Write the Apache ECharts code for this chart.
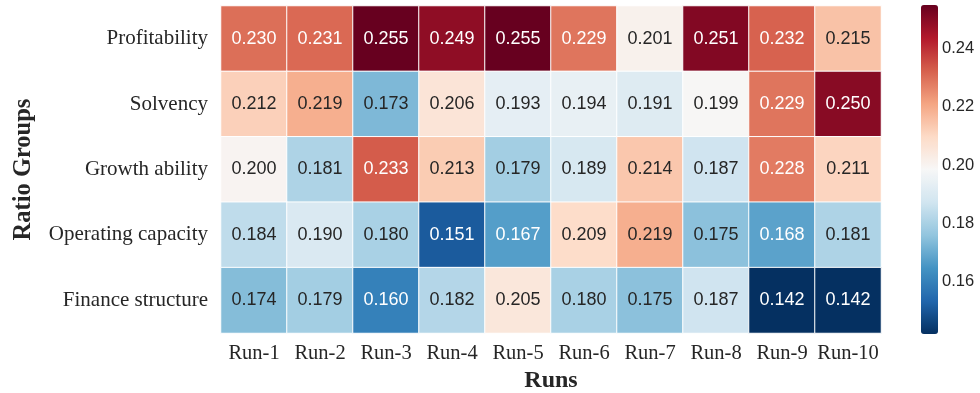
<!DOCTYPE html>
<html><head><meta charset="utf-8">
<script src="https://cdn.jsdelivr.net/npm/echarts@6/dist/echarts.min.js"></script>
<style>html,body{margin:0;padding:0;background:#fff}#c{width:980px;height:393px}</style>
</head><body><div id="c"></div>
<script>
const runs = ['Run-1','Run-2','Run-3','Run-4','Run-5','Run-6','Run-7','Run-8','Run-9','Run-10'];
const groups = ['Profitability','Solvency','Growth ability','Operating capacity','Finance structure'];
const profitability = [0.230,0.231,0.255,0.249,0.255,0.229,0.201,0.251,0.232,0.215];
const solvency      = [0.212,0.219,0.173,0.206,0.193,0.194,0.191,0.199,0.229,0.250];
const growth        = [0.200,0.181,0.233,0.213,0.179,0.189,0.214,0.187,0.228,0.211];
const operating     = [0.184,0.190,0.180,0.151,0.167,0.209,0.219,0.175,0.168,0.181];
const finance       = [0.174,0.179,0.160,0.182,0.205,0.180,0.175,0.187,0.142,0.142];
const colorbarTicks = [0.16,0.18,0.20,0.22,0.24];
const vmin = 0.142, vmax = 0.255;
const rows = [profitability, solvency, growth, operating, finance];
const rdbu = ['#053061','#2166ac','#4393c3','#92c5de','#d1e5f0','#f7f7f7','#fddbc7','#f4a582','#d6604d','#b2182b','#67001f'];

function hex2rgb(h){return [parseInt(h.slice(1,3),16),parseInt(h.slice(3,5),16),parseInt(h.slice(5,7),16)];}
function colorAt(v){
  let t=(v-vmin)/(vmax-vmin); t=Math.max(0,Math.min(1,t));
  const p=t*(rdbu.length-1), i=Math.min(Math.floor(p),rdbu.length-2), f=p-i;
  const a=hex2rgb(rdbu[i]), b=hex2rgb(rdbu[i+1]);
  return a.map((x,k)=>x+(b[k]-x)*f);
}
function lum(rgb){
  const c=rgb.map(x=>{x/=255;return x<=0.03928?x/12.92:Math.pow((x+0.055)/1.055,2.4);});
  return 0.2126*c[0]+0.7152*c[1]+0.0722*c[2];
}
const data=[];
rows.forEach((r,yi)=>r.forEach((v,xi)=>{
  const dark = lum(colorAt(v))>0.408;
  data.push({value:[xi,yi,v],label:{color:dark?'#262626':'#ffffff'}});
}));

const chart=echarts.init(document.getElementById('c'),null,{renderer:'canvas'});
chart.setOption({
  animation:false,
  backgroundColor:'#fff',
  grid:[
    {left:221,right:99,top:6,bottom:60,outerBoundsMode:'none',containLabel:false},
    {left:921,width:17,top:5,height:329,outerBoundsMode:'none',containLabel:false}
  ],
  xAxis:[
    {type:'category',data:runs,gridIndex:0,
     axisLine:{show:false},axisTick:{show:false},splitLine:{show:false},
     axisLabel:{interval:0,fontFamily:'Liberation Serif',fontSize:20.5,color:'#262626',margin:10},
     name:'Runs',nameLocation:'middle',nameGap:35,
     nameTextStyle:{fontFamily:'Liberation Serif',fontSize:24,fontWeight:'bold',color:'#262626'}},
    {type:'category',data:[''],gridIndex:1,show:false}
  ],
  yAxis:[
    {type:'category',data:groups,inverse:true,gridIndex:0,
     axisLine:{show:false},axisTick:{show:false},splitLine:{show:false},
     axisLabel:{interval:0,fontFamily:'Liberation Serif',fontSize:21,color:'#262626',margin:13},
     name:'Ratio Groups',nameLocation:'middle',nameGap:185,nameRotate:90,
     nameTextStyle:{fontFamily:'Liberation Serif',fontSize:24.5,fontWeight:'bold',color:'#262626'}},
    {type:'value',gridIndex:1,position:'right',min:vmin,max:vmax,
     axisLine:{show:false},axisTick:{show:false},splitLine:{show:false},
     axisLabel:{customValues:colorbarTicks,formatter:v=>v.toFixed(2),fontFamily:'Liberation Sans',fontSize:16.5,color:'#262626',margin:4}}
  ],
  visualMap:{
    type:'continuous',min:vmin,max:vmax,seriesIndex:0,calculable:false,
    orient:'vertical',left:921,top:5,itemWidth:17,itemHeight:329,padding:0,
    text:null,showLabel:false,
    inRange:{color:rdbu}
  },
  series:[{
    type:'heatmap',xAxisIndex:0,yAxisIndex:0,data:data,
    itemStyle:{borderColor:'#ffffff',borderWidth:1},
    label:{show:true,formatter:p=>p.value[2].toFixed(3),fontFamily:'Liberation Sans',fontSize:18},
    emphasis:{disabled:true}
  }]
});
</script></body></html>
